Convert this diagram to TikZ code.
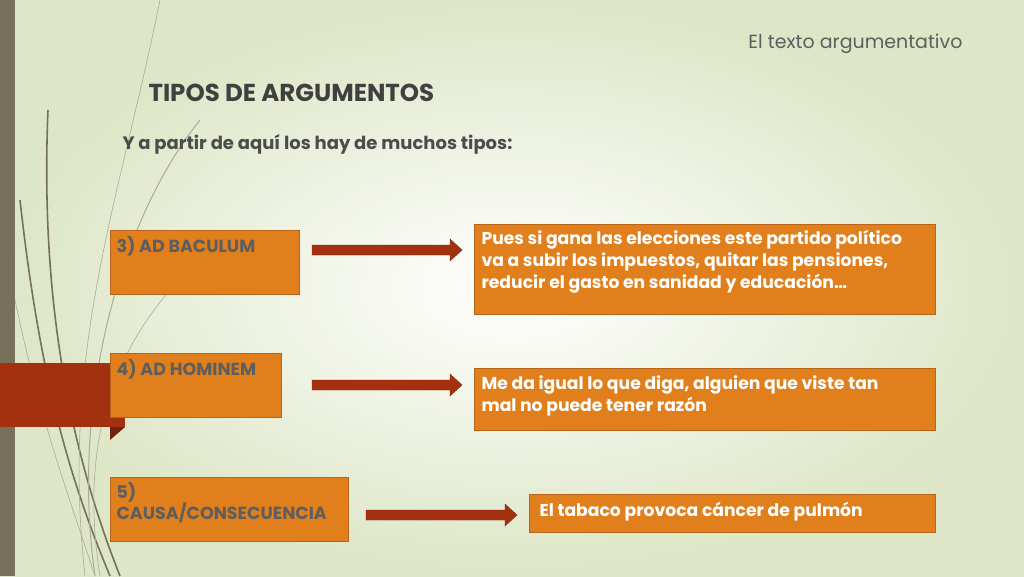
\documentclass[tikz,border=0pt]{standalone}
\usepackage{fontspec}
\setmainfont{Poppins}
\definecolor{org}{HTML}{E07F1C}
\definecolor{orgb}{HTML}{B8651A}
\definecolor{redd}{HTML}{A3300F}
\definecolor{bar}{HTML}{77705A}
\definecolor{gtxt}{HTML}{5E5E5E}
\definecolor{bgout}{HTML}{DDE6C6}
\tikzset{
 lbox/.style={draw=orgb,fill=org,anchor=north west,inner sep=0pt},
 ltxt/.style={anchor=north west,text=gtxt,font=\bfseries\fontsize{17.5}{20}\selectfont,align=left},
 rtxt/.style={anchor=north west,text=white,font=\bfseries\fontsize{17.2}{22}\selectfont,align=left},
 fatarrow/.style={draw=redd!80!black,fill=redd},
 curve/.style={draw=bar,line width=1.6pt},
 thin/.style={draw=bar!60,line width=0.6pt}
}
\begin{document}
\begin{tikzpicture}[x=1pt,y=-1pt]
\useasboundingbox (0,0) rectangle (1024,576);
\shade[inner color=white,outer color=bgout] (0,0) rectangle (1024,576);
% decorative curves
\draw[curve] (48,110) .. controls (40,300) and (70,450) .. (120,576);
\draw[curve] (20,200) .. controls (40,380) and (70,480) .. (110,576);
\draw[thin] (15,300) .. controls (40,420) and (70,500) .. (95,576);
\draw[thin,line width=1pt] (200,120) .. controls (120,220) and (70,400) .. (95,576);
\draw[thin] (160,0) .. controls (120,200) and (60,350) .. (85,576);
\draw[thin] (170,290) .. controls (110,360) and (80,450) .. (100,576);
\fill[bar] (0,0) rectangle (15,576);
\fill[redd] (0,363) rectangle (125,427);
\fill[redd!70!black] (110,427) -- (125,427) -- (110,440) -- cycle;
% texts
\node[anchor=base east,text=gtxt,font=\fontsize{19}{22}\selectfont] (hdr) at (966,48) {El texto argumentativo};
\node[anchor=base west,text=black!75,font=\bfseries\fontsize{24.5}{28}\selectfont] (ttl) at (145,101) {TIPOS DE ARGUMENTOS};
\node[anchor=base west,text=black!70,font=\bfseries\fontsize{18}{22}\selectfont] (sub) at (119,149) {Y a partir de aquí los hay de muchos tipos:};
% left boxes
\draw[lbox] (110,230) rectangle (299,294); \node[ltxt] (l1) at (113,233) {3) AD BACULUM};
\draw[lbox] (110,353) rectangle (281,417); \node[ltxt] (l2) at (113,356) {4) AD HOMINEM};
\draw[lbox] (110,477) rectangle (348,541); \node[ltxt] (l3) at (113,479) {5)\\CAUSA/CONSECUENCIA};
% right boxes
\draw[lbox] (474,224) rectangle (935,314); \node[rtxt] (r1) at (478,227) {Pues si gana las elecciones este partido político\\va a subir los impuestos, quitar las pensiones,\\reducir el gasto en sanidad y educación…};
\draw[lbox] (474,368) rectangle (935,430); \node[rtxt] (r2) at (478,372) {Me da igual lo que diga, alguien que viste tan\\mal no puede tener razón};
\draw[lbox] (529,494) rectangle (935,532); \node[rtxt] (r3) at (536,499) {El tabaco provoca cáncer de pulmón};
% arrows
\draw[fatarrow] (312,245) -- (450,245) -- (450,239) -- (462,250) -- (450,261) -- (450,255) -- (312,255) -- cycle;
\draw[fatarrow] (312,380) -- (450,380) -- (450,374) -- (462,385) -- (450,396) -- (450,390) -- (312,390) -- cycle;
\draw[fatarrow] (366,510) -- (505,510) -- (505,504) -- (517,515) -- (505,526) -- (505,520) -- (366,520) -- cycle;
\end{tikzpicture}
\end{document}
